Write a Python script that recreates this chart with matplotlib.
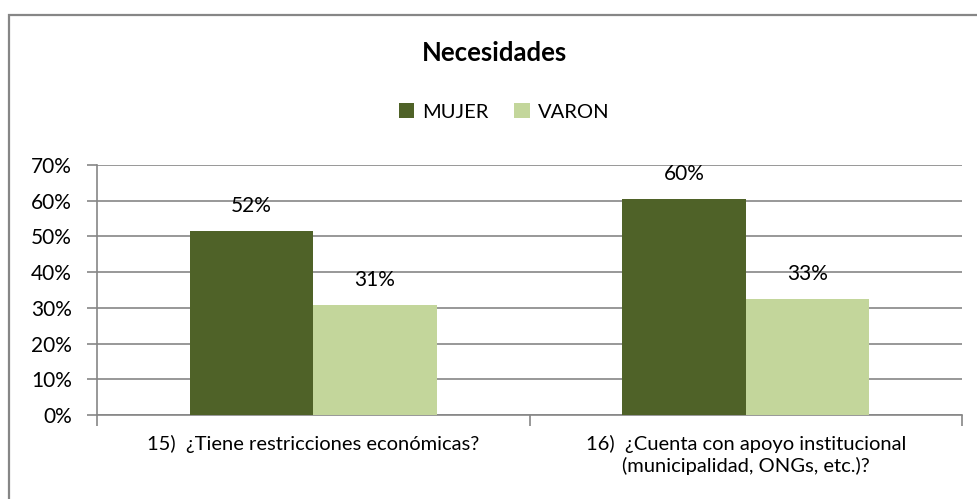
import matplotlib

matplotlib.use("Agg")
import matplotlib.pyplot as plt
import numpy as np
from matplotlib.patches import Rectangle

plt.rcParams["font.family"] = ["Lato", "DejaVu Sans"]

# datos
categories = ["15)  ¿Tiene restricciones económicas?",
              "16)  ¿Cuenta con apoyo institucional\n(municipalidad, ONGs, etc.)?"]
series_names = ["MUJER", "VARON"]
mujer = [0.515, 0.605]
varon = [0.308, 0.326]
value_labels = [["52%", "60%"], ["31%", "33%"]]
yticks = [0.0, 0.1, 0.2, 0.3, 0.4, 0.5, 0.6, 0.7]

colors = ["#4F6228", "#C3D69B"]
grid_c = "#868686"

W, H = 978, 499
fig = plt.figure(figsize=(W / 100, H / 100), dpi=100)

# marco exterior (solo se ven arriba e izquierda)
fig.patches.append(Rectangle((8.5 / W, -0.1), 1.2, 1.1 - 15.5 / H,
                             transform=fig.transFigure, fill=False,
                             edgecolor=grid_c, linewidth=1.6))

ax = fig.add_axes([97 / W, 84 / H, (962 - 97) / W, 250 / H])

x = np.arange(len(categories))
bw = 0.285
for i, (vals, name) in enumerate(zip([mujer, varon], series_names)):
    pos = x + (i - 0.5) * bw
    ax.bar(pos, vals, width=bw, color=colors[i], label=name, zorder=3)
    for p, v, lab in zip(pos, vals, value_labels[i]):
        ax.annotate(lab, (p, v), xytext=(0, 18), textcoords="offset points",
                    ha="center", va="center", fontsize=15, zorder=4)

ax.set_xlim(-0.5, 1.5)
ax.set_ylim(0, 0.7)
ax.set_yticks(yticks)
ax.set_yticklabels([f"{int(round(t * 100))}%" for t in yticks], fontsize=15)
ax.yaxis.grid(True, color=grid_c, linewidth=1.2, zorder=0)
ax.set_axisbelow(True)

# ticks del eje x en los limites de categoria, etiquetas centradas
ax.set_xticks([-0.5, 0.5, 1.5])
ax.set_xticklabels([])
ax.set_xticks(x, minor=True)
ax.set_xticklabels(categories, minor=True, fontsize=14.5, linespacing=1.3)
ax.tick_params(axis="x", which="minor", length=0, pad=14)
ax.tick_params(axis="x", which="major", length=8, color=grid_c, width=1.2)
ax.tick_params(axis="y", length=7, color=grid_c, width=1.2, pad=11)

for s in ["top", "right"]:
    ax.spines[s].set_visible(False)
for s in ["left", "bottom"]:
    ax.spines[s].set_color(grid_c)
    ax.spines[s].set_linewidth(1.2)

fig.text(494 / W, 1 - 53 / H, "Necesidades", ha="center", va="center",
         fontsize=18.5, fontweight="bold")
fig.legend(loc="center", bbox_to_anchor=(504 / W, 1 - 112 / H), ncol=2,
           frameon=False, fontsize=14.5, handlelength=0.75, handleheight=0.75,
           handletextpad=0.4, columnspacing=1.3)

fig.savefig("out.png", dpi=100)
